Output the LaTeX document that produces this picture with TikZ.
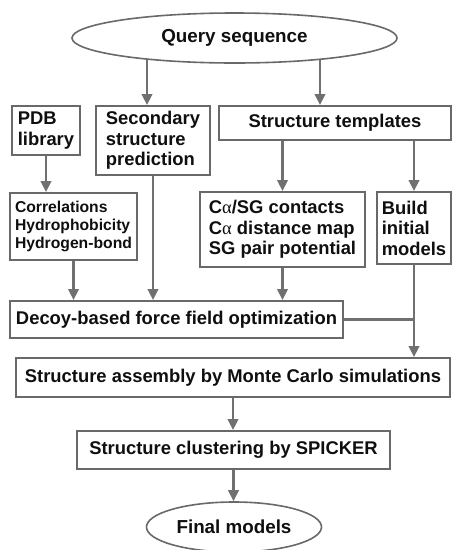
\documentclass[tikz,border=0pt]{standalone}
\usepackage{fontspec}
\setmainfont{Liberation Sans}
\newfontfamily\greekf{Liberation Serif}
\usetikzlibrary{arrows.meta,shapes.geometric}
\definecolor{bordc}{RGB}{105,105,105}
\definecolor{arrc}{RGB}{112,112,112}
\definecolor{txtc}{RGB}{15,15,15}
\pgfdeclarelayer{bg}
\pgfsetlayers{bg,main}
\newcommand{\bigf}{\fontsize{18.4}{20.5}\selectfont\bfseries}
\newcommand{\smallf}{\fontsize{15.7}{18.3}\selectfont\bfseries}
\newcommand{\galpha}{{\greekf\mdseries α}}
\tikzset{
  box/.style={draw=bordc, line width=2pt, fill=white, rectangle, inner sep=0pt,
    align=left, text=txtc, font=\bigf},
  ell/.style={draw=bordc, line width=1.6pt, fill=white, ellipse, inner sep=0pt,
    text=txtc, font=\fontsize{18.8}{21}\selectfont\bfseries},
  arr/.style={draw=arrc, line width=2.5pt, -{Triangle[length=11pt,width=10.5pt]}},
  ln/.style={draw=arrc, line width=2.5pt}
}
\begin{document}
\begin{tikzpicture}[x=1pt,y=-1pt]
\useasboundingbox (0,0) rectangle (453,550);
\node[ell, minimum width=325pt, minimum height=50pt] (query) at (234.5,38) {Query sequence};
\node[box, minimum width=68pt, minimum height=49pt] (pdb) at (46,130.5) {PDB\\library};
\node[box, minimum width=114pt, minimum height=69pt] (ssp) at (153,140.5) {Secondary\\structure\\prediction};
\node[box, minimum width=232pt, minimum height=34pt] (tmpl) at (335,123) {Structure templates};
\node[box, font=\smallf, minimum width=127pt, minimum height=67pt] (corr) at (73.5,226.5) {Correlations\\Hydrophobicity\\Hydrogen-bond};
\node[box, minimum width=165pt, minimum height=75pt] (ca) at (282.5,229.5) {C\galpha/SG contacts\\C\galpha{} distance map\\SG pair potential};
\node[box, minimum width=74pt, minimum height=72pt] (build) at (414,228) {Build\\initial\\models};
\node[box, minimum width=333pt, minimum height=37pt] (decoy) at (176.5,319.5) {Decoy-based force field optimization};
\node[box, minimum width=434pt, minimum height=39pt] (asm) at (233,377.5) {Structure assembly by Monte Carlo simulations};
\node[box, minimum width=313pt, minimum height=38pt] (clus) at (233.5,450) {Structure clustering by SPICKER};
\node[ell, minimum width=175pt, minimum height=50pt] (final) at (234,527) {Final models};
\coordinate (q1) at (147,106);
\coordinate (q2) at (320,106);
\begin{pgfonlayer}{bg}
\draw[arr] (query.center -| q1) -- (q1 |- ssp.north);
\draw[arr] (query.center -| q2) -- (q2 |- tmpl.north);
\end{pgfonlayer}
\draw[arr] (pdb.south) -- (pdb.south |- corr.north);
\draw[arr] (ca.north |- tmpl.south) -- (ca.north);
\draw[arr] (build.north |- tmpl.south) -- (build.north);
\draw[arr] (corr.south) -- (corr.south |- decoy.north);
\draw[arr] (ssp.south) -- (ssp.south |- decoy.north);
\draw[arr] (ca.south) -- (ca.south |- decoy.north);
\draw[ln] (decoy.east) -- (decoy.east -| build.south);
\draw[arr] (build.south) -- (build.south |- asm.north);
\draw[arr] (asm.south) -- (asm.south |- clus.north);
\draw[arr] (clus.south) -- (clus.south |- final.north);
\end{tikzpicture}
\end{document}
